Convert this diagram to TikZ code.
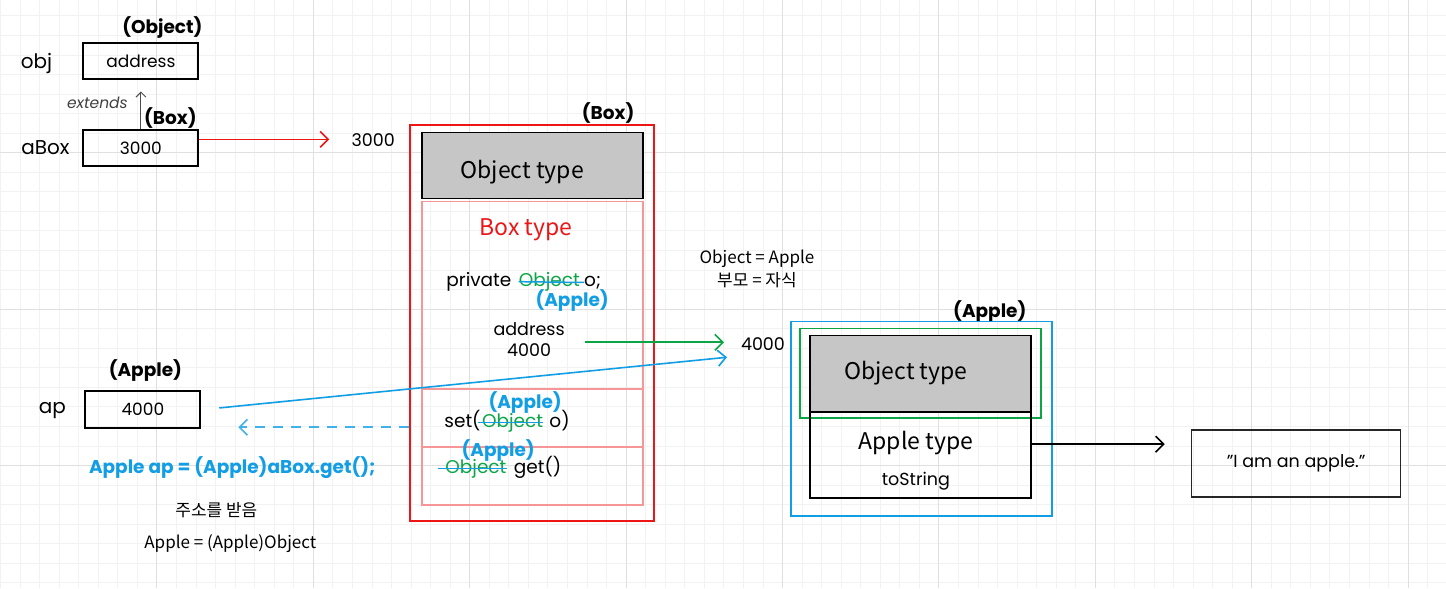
\documentclass[tikz,border=0pt]{standalone}
\usepackage{fontspec}
\setmainfont{Poppins}
\newfontfamily\krfont{Noto Sans CJK KR}
\usetikzlibrary{arrows.meta, positioning}
\definecolor{boxred}{RGB}{236,22,22}
\definecolor{boxpink}{RGB}{246,150,150}
\definecolor{appleblue}{RGB}{18,158,228}
\definecolor{castgreen}{RGB}{10,166,70}
\definecolor{typegray}{RGB}{198,198,198}
\definecolor{gridminor}{RGB}{242,242,242}
\definecolor{gridmajor}{RGB}{224,224,224}

\begin{document}
\begin{tikzpicture}[x=1pt, y=-1pt,
  var/.style={rectangle, draw=black, line width=2pt, minimum width=115pt,
              minimum height=36pt, font=\fontsize{17}{20}\selectfont},
  vname/.style={font=\fontsize{20}{24}\selectfont},
  tag/.style={font=\bfseries\fontsize{18.5}{22}\selectfont},
  plain/.style={font=\fontsize{17.5}{21}\selectfont, align=center},
  code/.style={font=\fontsize{18.5}{21}\selectfont, inner sep=0pt, anchor=base west},
  kr/.style={font=\krfont\fontsize{17}{23}\selectfont, align=center},
  typetxt/.style={font=\krfont\fontsize{23}{27}\selectfont},
  frame/.style={rectangle, draw, minimum width=#1, inner sep=0pt},
  tip/.style={-{Straight Barb[length=8pt, width=16pt]}, line width=1.6pt},
  strike/.style={draw=appleblue, line width=1.5pt}
]
  % background grid
  \fill[white] (0,0) rectangle (1446,588);
  \foreach \i in {0,...,73}
    \draw[gridminor, line width=0.8pt] ({\i*19.5625},0) -- ({\i*19.5625},588);
  \foreach \i in {1,...,30}
    \draw[gridminor, line width=0.8pt] (0,{\i*19.5625-4.2}) -- (1446,{\i*19.5625-4.2});
  \foreach \i in {1,...,9}
    \draw[gridmajor, line width=1pt] ({\i*156.5},0) -- ({\i*156.5},588);
  \foreach \i in {1,...,3}
    \draw[gridmajor, line width=1pt] (0,{\i*156.5-4.2}) -- (1446,{\i*156.5-4.2});
  \useasboundingbox (0,0) rectangle (1446,588);

  % variables on the left
  \node[tag] (objtag) at (162,27) {(Object)};
  \node[vname] (objname) at (36,63) {obj};
  \node[var] (objval) at (140.5,61) {address};
  \node[tag] (aboxtag) at (170,118) {(Box)};
  \node[vname] (aboxname) at (45,147) {aBox};
  \node[var] (aboxval) at (140.5,148) {3000};
  \node[font=\itshape\fontsize{15.5}{17}\selectfont, text=black!75] (ext) at (97,102) {extends};
  \node[tag] (aptag) at (145,370) {(Apple)};
  \node[vname] (apname) at (52,410) {ap};
  \node[var, minimum height=37pt] (apval) at (142.5,409.5) {4000};

  \node[plain] (addr3000) at (373,140) {3000};
  \coordinate (redend) at (329,139);

  % Box object
  \node[tag] (boxtag) at (608,113) {(Box)};
  \node[frame=244pt, draw=boxred, line width=2pt, minimum height=396pt] (boxouter) at (532,323) {};
  \node[frame=221pt, fill=typegray, line width=1.5pt, minimum height=66pt] (boxobj) at (532.5,165) {};
  \node[typetxt] (boxobjtxt) at (522,172) {Object type};
  \node[frame=221pt, draw=boxpink, line width=1.5pt, minimum height=304pt] (boxinner) at (532.5,353) {};
  \draw[boxpink, line width=1.5pt] (boxinner.west |- 0,389) -- (boxinner.east |- 0,389);
  \draw[boxpink, line width=1.5pt] (boxinner.west |- 0,447) -- (boxinner.east |- 0,447);
  \node[typetxt, text=boxred] (boxtype) at (526,229) {Box type};

  \node[code] (priv) at (446,286) {private};
  \node[code, text=castgreen] (pobj) at ([xshift=7pt]priv.base east) {Object};
  \node[code] (po) at ([xshift=4pt]pobj.base east) {o;};
  \draw[strike] (pobj.west) -- (po.west);
  \node[tag, text=appleblue] (privtag) at (572,300) {(Apple)};
  \node[plain] (addrtxt) at (529,339) {address\\4000};

  \node[tag, text=appleblue] (settag) at (525,402) {(Apple)};
  \node[code] (sset) at (444,427) {set(};
  \node[code, text=castgreen] (sobj) at ([xshift=1pt]sset.base east) {Object};
  \node[code] (so) at ([xshift=6pt]sobj.base east) {o)};
  \draw[strike] ([xshift=-4pt]sobj.west) -- (sobj.east);

  \node[tag, text=appleblue] (gettag) at (498,450) {(Apple)};
  \node[code, text=castgreen] (gobj) at (445,473) {Object};
  \node[code] (gget) at ([xshift=7pt]gobj.base east) {get()};
  \draw[strike] ([xshift=-7pt]gobj.west) -- (gobj.east);

  % Apple object
  \node[kr] (upcast) at (757,269) {Object = Apple\\부모 = 자식};
  \node[tag] (appletag) at (990,311) {(Apple)};
  \node[plain] (addr4000) at (763,344) {4000};
  \node[frame=261pt, draw=appleblue, line width=1.5pt, minimum height=195pt] (appleouter) at (921.5,418.5) {};
  \node[frame=221pt, fill=typegray, line width=1.5pt, minimum height=77pt] (appleobj) at (920.5,373.5) {};
  \node[frame=241pt, draw=castgreen, line width=1.5pt, minimum height=90pt] (applegreen) at (920.5,373) {};
  \node[typetxt] (appleobjtxt) at (906,373) {Object type};
  \node[frame=221pt, line width=1.5pt, minimum height=86pt] (appletype) at (920.5,455) {};
  \node[typetxt] (appletypetxt) at (916,443) {Apple type};
  \node[plain] (tostr) at (916,481) {toString};
  \node[frame=209pt, draw=black!85, line width=1.5pt, minimum height=67pt, plain] (strbox) at (1296.5,463.5) {"I am an apple."};

  % notes at the bottom left
  \node[tag, text=appleblue] (getcall) at (232,467) {Apple ap = (Apple)aBox.get();};
  \node[kr] (recv) at (216,510) {주소를 받음};
  \node[kr] (downcast) at (230,543) {Apple = (Apple)Object};

  % connectors
  \coordinate (greenstart) at (585,342);
  \coordinate (greenend) at (724,342);
  \coordinate (blueend) at (727,357);
  \coordinate (dashend) at (238,427);
  \coordinate (blackend) at (1165,444);
  \draw[-{Straight Barb[length=5pt, width=10pt]}, black!70, line width=1pt, shorten >=11pt] (aboxval.north) -- (objval.south);
  \draw[tip, boxred] (aboxval.east |- redend) -- (redend);
  \draw[tip, castgreen] (greenstart) -- (greenend);
  \draw[tip, appleblue, shorten <=18pt] (apval.east) -- (blueend);
  \draw[tip, appleblue!80, dash pattern=on 10pt off 8pt] (boxouter.west |- dashend) -- (dashend);
  \draw[tip, black] (appletype.east |- blackend) -- (blackend);
\end{tikzpicture}
\end{document}
